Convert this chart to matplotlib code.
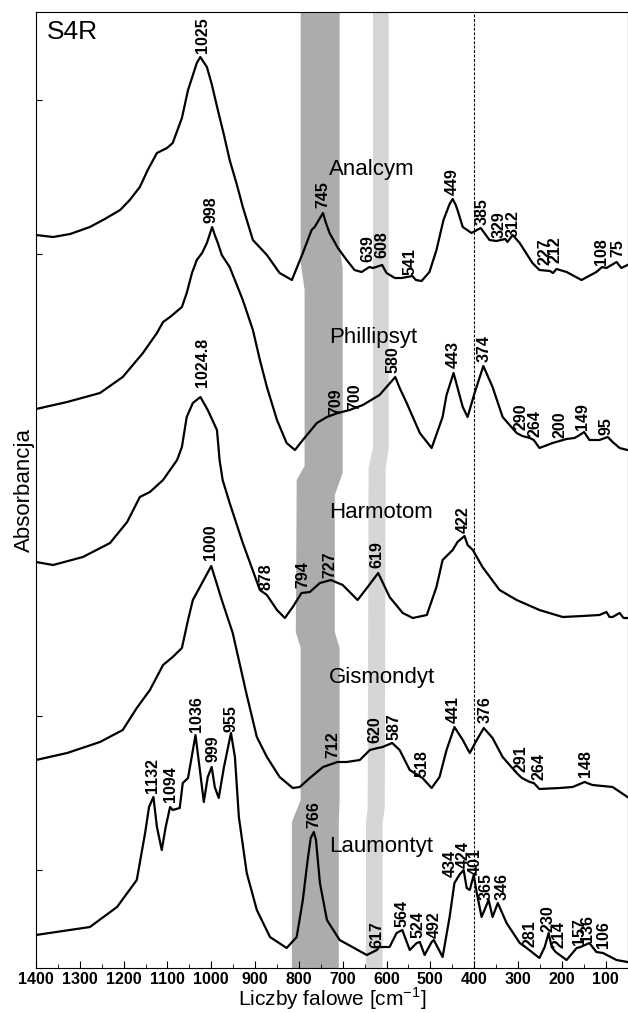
import matplotlib
matplotlib.use("Agg")
import matplotlib.pyplot as plt
from matplotlib.patches import Polygon

plt.rcParams['font.family'] = ['Liberation Sans', 'DejaVu Sans']
plt.rcParams['mathtext.fontset'] = 'custom'
plt.rcParams['mathtext.rm'] = 'Liberation Sans'

# wavenumbers [cm-1] and stacked absorbance (arbitrary units)
analcym_w = [1400, 1361, 1322, 1277, 1243, 1208, 1186, 1163, 1145, 1124, 1101, 1088, 1067, 1053, 1033, 1025,
             1010, 999, 985, 971, 958, 942, 928, 905, 873, 844, 816, 791, 771, 764, 745, 739, 730, 711,
             691, 673, 657, 639, 631, 610, 600, 581, 565, 541, 533, 520, 502, 486, 470, 456, 449, 442,
             438, 426, 406, 385, 365, 349, 329, 324, 312, 296, 267, 251, 227, 220, 212, 189, 155, 121,
             108, 98, 75, 64, 50]
analcym_a = [7.33, 7.31, 7.34, 7.41, 7.49, 7.58, 7.68, 7.81, 7.98, 8.15, 8.20, 8.25, 8.50, 8.78, 9.05, 9.11,
             9.01, 8.84, 8.58, 8.33, 8.08, 7.84, 7.61, 7.28, 7.13, 6.95, 6.88, 7.15, 7.38, 7.41, 7.55, 7.46, 7.35, 7.20,
             7.08, 6.98, 6.96, 7.01, 7.00, 7.03, 6.95, 6.90, 6.90, 6.92, 6.88, 6.87, 6.96, 7.18, 7.48, 7.64, 7.69, 7.63,
             7.58, 7.41, 7.35, 7.40, 7.28, 7.27, 7.29, 7.26, 7.33, 7.25, 7.05, 6.98, 6.97, 6.95, 6.99, 6.96, 6.88, 6.96,
             7.01, 7.00, 7.06, 7.00, 7.03]

phill_w = [1400, 1329, 1254, 1202, 1156, 1124, 1110, 1094, 1067, 1056, 1044, 1033, 1021, 1010, 998, 992,
           985, 976, 958, 928, 905, 889, 873, 850, 828, 809, 791, 759, 736, 711, 684, 654, 616, 600,
           580, 570, 554, 524, 497, 472, 463, 447, 426, 415, 399, 379, 358, 335, 303, 290, 273, 264,
           251, 221, 189, 171, 159, 149, 137, 114, 95, 84, 68, 50]
phill_a = [5.59, 5.66, 5.75, 5.91, 6.15, 6.35, 6.46, 6.51, 6.61, 6.75, 6.95, 7.08, 7.15, 7.25, 7.41, 7.33,
           7.25, 7.13, 7.01, 6.68, 6.38, 6.08, 5.81, 5.48, 5.25, 5.18, 5.28, 5.45, 5.51, 5.55, 5.58, 5.63, 5.73, 5.81,
           5.91, 5.80, 5.65, 5.35, 5.20, 5.51, 5.73, 5.95, 5.61, 5.51, 5.75, 6.02, 5.81, 5.51, 5.35, 5.32, 5.30, 5.28,
           5.20, 5.25, 5.29, 5.30, 5.33, 5.36, 5.28, 5.28, 5.31, 5.26, 5.20, 5.18]

harmo_w = [1400, 1361, 1293, 1231, 1192, 1163, 1140, 1110, 1078, 1067, 1056, 1042, 1024.8, 1008, 987, 981,
           974, 958, 928, 889, 873, 850, 832, 814, 794, 775, 752, 727, 700, 666, 643, 619, 593, 563,
           540, 508, 486, 472, 449, 438, 422, 415, 403, 381, 342, 303, 251, 198, 153, 114, 98, 91,
           84, 68, 59, 50]
harmo_a = [4.06, 4.03, 4.11, 4.25, 4.46, 4.71, 4.76, 4.88, 5.08, 5.21, 5.51, 5.65, 5.71, 5.58, 5.38, 5.08,
           4.88, 4.65, 4.25, 3.78, 3.73, 3.58, 3.50, 3.61, 3.75, 3.76, 3.85, 3.88, 3.83, 3.68, 3.81, 3.95, 3.71, 3.55,
           3.50, 3.53, 3.81, 4.08, 4.18, 4.26, 4.32, 4.23, 4.18, 4.01, 3.78, 3.68, 3.58, 3.51, 3.52, 3.53, 3.56, 3.51,
           3.51, 3.55, 3.50, 3.50]

gismo_w = [1400, 1329, 1254, 1202, 1170, 1140, 1110, 1088, 1067, 1053, 1042, 1021, 1000, 976, 951, 919,
           896, 873, 844, 814, 798, 775, 745, 712, 691, 661, 638, 620, 609, 587, 570, 547, 518, 497,
           479, 463, 445, 426, 410, 394, 378, 358, 335, 303, 291, 273, 264, 251, 205, 175, 148, 130,
           84, 50]
gismo_a = [2.08, 2.15, 2.26, 2.38, 2.60, 2.78, 3.03, 3.11, 3.20, 3.48, 3.68, 3.85, 4.02, 3.68, 3.35, 2.73,
           2.31, 2.11, 1.91, 1.80, 1.81, 1.90, 2.01, 2.06, 2.06, 2.08, 2.18, 2.20, 2.21, 2.25, 2.18, 1.98, 1.90, 1.80,
           1.91, 2.18, 2.41, 2.28, 2.15, 2.28, 2.40, 2.30, 2.11, 1.95, 1.90, 1.86, 1.85, 1.79, 1.80, 1.81, 1.86, 1.83,
           1.81, 1.71]

laumo_w = [1400, 1277, 1215, 1170, 1151, 1142, 1132, 1124, 1113, 1104, 1094, 1088, 1072, 1065, 1053, 1036,
           1026, 1017, 1008, 999, 992, 983, 971, 955, 946, 937, 919, 896, 866, 828, 805, 791, 780, 773,
           766, 761, 752, 736, 707, 645, 622, 617, 593, 577, 564, 547, 531, 524, 513, 497, 492, 472,
           456, 445, 434, 424, 417, 410, 401, 394, 383, 367, 358, 346, 326, 296, 280, 251, 239, 230,
           223, 214, 189, 166, 157, 137, 121, 106, 84, 75, 50]
laumo_a = [0.33, 0.41, 0.61, 0.88, 1.35, 1.61, 1.71, 1.41, 1.18, 1.41, 1.61, 1.58, 1.60, 1.85, 1.90, 2.33,
           1.98, 1.66, 1.91, 2.01, 1.81, 1.70, 2.01, 2.35, 2.11, 1.51, 0.95, 0.58, 0.31, 0.20, 0.31, 0.68, 1.08, 1.30,
           1.36, 1.28, 0.85, 0.48, 0.28, 0.13, 0.18, 0.21, 0.21, 0.35, 0.38, 0.18, 0.25, 0.26, 0.13, 0.26, 0.28, 0.11,
           0.51, 0.85, 0.93, 0.98, 0.80, 0.78, 0.93, 0.75, 0.51, 0.68, 0.51, 0.65, 0.45, 0.25, 0.20, 0.10, 0.21, 0.35,
           0.21, 0.16, 0.08, 0.20, 0.21, 0.25, 0.16, 0.15, 0.10, 0.08, 0.06]

spectra = [(analcym_w, analcym_a), (phill_w, phill_a), (harmo_w, harmo_a),
           (gismo_w, gismo_a), (laumo_w, laumo_a)]

names = ["Analcym", "Phillipsyt", "Harmotom", "Gismondyt", "Laumontyt"]
name_y = [7.93, 6.25, 4.50, 2.85, 1.16]

# peak labels: text, label x (cm-1), label bottom (a.u.)
peaks_analcym = [("1025", 1021, 9.15), ("745", 745, 7.60), ("639", 643, 7.06), ("608", 611, 7.10),
                 ("541", 547, 6.93), ("449", 451, 7.73), ("385", 383, 7.43), ("329", 342, 7.30),
                 ("312", 312, 7.31), ("227", 239, 7.03), ("212", 216, 7.05), ("108", 109, 7.03),
                 ("75", 73, 7.11)]
peaks_phill = [("998", 1001, 7.45), ("709", 716, 5.53), ("700", 673, 5.58), ("580", 586, 5.95),
               ("443", 447, 6.00), ("374", 378, 6.06), ("290", 292, 5.38), ("264", 262, 5.31),
               ("200", 205, 5.30), ("149", 153, 5.38), ("95", 98, 5.33)]
peaks_harmo = [("1024.8", 1021, 5.81), ("878", 875, 3.78), ("794", 791, 3.80), ("727", 730, 3.90),
               ("619", 622, 4.00), ("422", 424, 4.35)]
peaks_gismo = [("1000", 1001, 4.08), ("712", 723, 2.10), ("620", 627, 2.25), ("587", 584, 2.28),
               ("518", 520, 1.91), ("441", 447, 2.45), ("376", 376, 2.45), ("291", 292, 1.96),
               ("264", 251, 1.88), ("148", 146, 1.91)]
peaks_laumo = [("1132", 1133, 1.75), ("1094", 1092, 1.66), ("1036", 1033, 2.36), ("999", 996, 2.06),
               ("955", 955, 2.36), ("766", 766, 1.40), ("617", 622, 0.20), ("564", 565, 0.41),
               ("524", 529, 0.30), ("492", 490, 0.30), ("434", 454, 0.91), ("424", 424, 1.00),
               ("401", 397, 0.93), ("365", 372, 0.68), ("346", 337, 0.68), ("281", 273, 0.21),
               ("230", 232, 0.36), ("214", 207, 0.20), ("157", 159, 0.23), ("136", 141, 0.26),
               ("106", 105, 0.20)]
all_peaks = peaks_analcym + peaks_phill + peaks_harmo + peaks_gismo + peaks_laumo

# shaded S4R regions (outline vertices, cm-1 / a.u.)
band_dark = [(796, 9.56), (796, 7.06), (787, 6.78), (787, 5.02), (805, 4.88), (807, 3.36), (796, 3.20),
             (796, 1.68), (816, 1.46), (816, 0), (709, 0), (709, 1.46), (707, 1.68), (707, 3.20),
             (718, 3.36), (718, 4.73), (700, 4.95), (700, 7.0), (707, 7.2), (707, 9.56)]
band_light = [(631, 9.56), (631, 5.2), (641, 5.0), (643, 1.6), (647, 1.45), (647, 0),
              (609, 0), (609, 1.45), (604, 1.6), (602, 5.0), (595, 5.2), (595, 9.56)]

fig = plt.figure(figsize=(6.28, 10.13), dpi=100)
ax = fig.add_axes([36 / 628, 45 / 1013, 591.5 / 628, 956 / 1013])

ax.add_patch(Polygon(band_dark, closed=True, facecolor='#acacac', edgecolor='none', zorder=0))
ax.add_patch(Polygon(band_light, closed=True, facecolor='#d6d6d6', edgecolor='none', zorder=0))
ax.axvline(400, color='black', lw=0.8, ls=(0, (2.5, 1.5)), zorder=1)

for w, a in spectra:
    ax.plot(w, a, color='black', lw=1.6, solid_joinstyle='round', zorder=3)

for nm, y in zip(names, name_y):
    ax.text(732, y, nm, fontsize=16, ha='left', va='baseline', zorder=4)

for txt, x, y in all_peaks:
    ax.text(x, y, txt, rotation=90, ha='center', va='bottom', fontsize=11.5,
            fontweight='bold', zorder=4)

ax.text(1375, 9.29, "S4R", fontsize=19, ha='left', va='baseline')

ax.set_xlim(1400, 50)
ax.set_ylim(0, 9.56)
ax.set_xticks(range(1400, 99, -100))
ax.set_xticks(range(1350, 50, -100), minor=True)
ax.set_yticks([0.98, 2.52, 4.06, 5.60, 7.14, 8.68])
ax.set_yticklabels([])
ax.tick_params(axis='both', which='both', direction='in')
ax.tick_params(axis='x', which='major', length=5, labelsize=11.5, pad=3)
ax.tick_params(axis='x', which='minor', length=3)
ax.tick_params(axis='y', length=4)
for lab in ax.get_xticklabels():
    lab.set_fontweight('bold')

ax.set_xlabel(r"Liczby falowe [cm$^{\mathregular{-1}}$]", fontsize=15, labelpad=-1)
ax.set_ylabel("Absorbancja", fontsize=16, labelpad=-3)

fig.savefig("out.png", dpi=100)
